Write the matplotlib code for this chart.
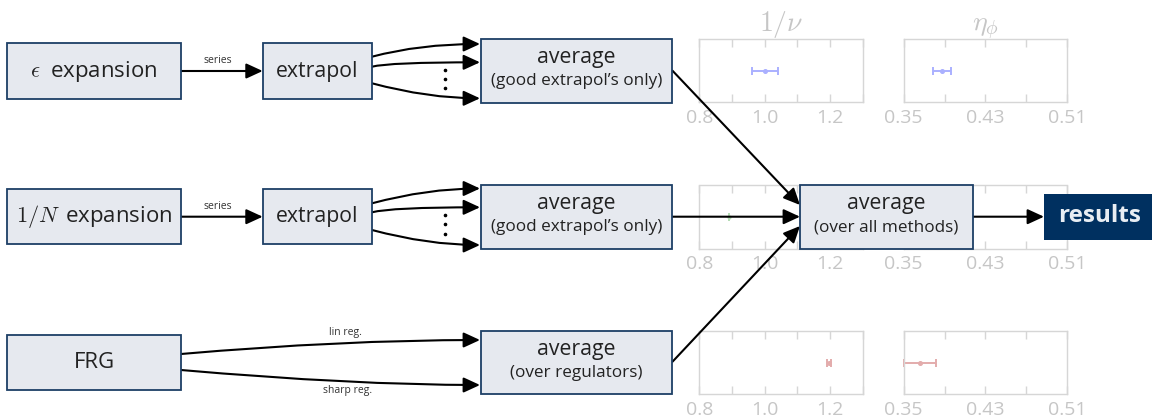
import matplotlib
matplotlib.use('Agg')
import matplotlib.pyplot as plt
from matplotlib.patches import Rectangle, FancyArrowPatch

plt.rcParams['font.family'] = ['Open Sans', 'DejaVu Sans']
plt.rcParams['mathtext.fontset'] = 'cm'

W, H = 1152, 418
fig = plt.figure(figsize=(W / 100, H / 100), dpi=100)

# ---------------- data ----------------
methods = [r'$\epsilon\;$ expansion', r'$1/N\,$ expansion', 'FRG']
nu_inv = [1.002, 0.89, 1.198]
nu_inv_err = [0.040, 0.0, 0.006]
eta_phi = [0.3876, None, 0.3659]
eta_phi_err = [0.0086, None, 0.0157]
row_colors = ['#aab0ff', '#b5dcb5', '#e3acac']
nu_ticks = [0.8, 0.9, 1.0, 1.1, 1.2, 1.3]
nu_ticklabels = ['0.8', '', '1.0', '', '1.2', '']
eta_ticks = [0.35, 0.39, 0.43, 0.47, 0.51]
eta_ticklabels = ['0.35', '', '0.43', '', '0.51']
panel_titles = [r'$1/\nu$', r'$\eta_\phi$']

GRAY = '#d6d6d6'
TGRAY = '#c6c6c6'


def px_axes(x, y, w, h, **kw):
    return fig.add_axes([x / W, 1 - (y + h) / H, w / W, h / H], **kw)


col_x = [699.3, 903.7]
col_w = 163.5
row_y = [39.3, 185.5, 331.0]
row_h = 63.0

for r in range(3):
    for c in range(2):
        ax = px_axes(col_x[c], row_y[r], col_w, row_h)
        if c == 0:
            ticks, labels = nu_ticks, nu_ticklabels
            val, err = nu_inv[r], nu_inv_err[r]
        else:
            ticks, labels = eta_ticks, eta_ticklabels
            val, err = eta_phi[r], eta_phi_err[r]
        ax.set_xlim(ticks[0], ticks[-1])
        ax.set_ylim(-1, 1)
        if val is not None:
            ax.errorbar([val], [0], xerr=[err], fmt='o',
                        ms=2.6 if err > 0 else 2.0,
                        color=row_colors[r], ecolor=row_colors[r],
                        elinewidth=1.4, capsize=3, capthick=1.4, clip_on=False)
        ax.set_xticks(ticks)
        ax.set_xticklabels(labels)
        ax.set_yticks([])
        ax.tick_params(axis='x', direction='in', top=True, length=6,
                       width=1, color=GRAY, labelcolor=TGRAY,
                       labelsize=14, pad=5)
        for s in ax.spines.values():
            s.set_color(GRAY)
            s.set_linewidth(1)
        if r == 0:
            ax.set_title(panel_titles[c], color=TGRAY, fontsize=20, pad=6)

# ---------------- overlay diagram ----------------
ov = fig.add_axes([0, 0, 1, 1], zorder=10)
ov.patch.set_alpha(0)
ov.set_xlim(0, W)
ov.set_ylim(H, 0)
ov.axis('off')

EDGE = '#1d3f66'
FILL = '#e6e9ef'
TXT = '#222222'


def box(x, y, w, h, main, sub=None, fs=15.3):
    ov.add_patch(Rectangle((x, y), w, h, facecolor=FILL, edgecolor=EDGE,
                           lw=1.3, zorder=3))
    cx = x + w / 2
    cy = y + h / 2
    if sub is None:
        ov.text(cx, cy, main, ha='center', va='center', fontsize=fs,
                color=TXT, zorder=4)
    else:
        ov.text(cx, cy - 13, main, ha='center', va='center', fontsize=fs,
                color=TXT, zorder=4)
        ov.text(cx, cy + 10.5, sub, ha='center', va='center', fontsize=12.3,
                color=TXT, zorder=4)


def arrow(p0, p1, cs='arc3,rad=0'):
    a = FancyArrowPatch(p0, p1, connectionstyle=cs,
                        arrowstyle='-|>,head_length=0.5,head_width=0.23',
                        mutation_scale=20, lw=1.5, color='black',
                        shrinkA=0, shrinkB=0, zorder=2)
    ov.add_patch(a)


# left column boxes
src_y = [43.3, 189.0, 335.0]
for r in range(3):
    box(7.3, src_y[r], 173.7, 55.4, methods[r], fs=16)

# extrapol boxes + series arrows
for r in range(2):
    y0 = src_y[r]
    box(262.7, y0, 109.3, 55.4, 'extrapol')
    ym = y0 + 27.7
    arrow((181, ym), (262.7, ym))
    ov.text(218, ym - 5, 'series', ha='center', va='bottom', fontsize=7.5,
            color='#333333')

# fan-out arrows from extrapol
fan = [
    [(372, 56.7, 480, 44.0, 15), (372, 66.7, 480, 62.3, 15), (372, 83.3, 480, 98.3, -15)],
    [(372, 203.3, 480, 188.5, 15), (372, 212.3, 480, 207.3, 15), (372, 230.0, 480, 245.0, -15)],
]
for grp in fan:
    for (x0, y0, x1, y1, ang) in grp:
        arrow((x0, y0), (x1, y1), cs=f'angle3,angleA={ang},angleB=0')

# vertical dots
for ys in ([69.5, 78.5, 88.0], [215.0, 224.0, 233.5]):
    ov.plot([445] * 3, ys, 'o', color='black', ms=1.6, zorder=2)

# FRG arrows
arrow((181, 354), (480, 340), cs='angle3,angleA=5,angleB=0')
arrow((181, 370), (480, 385), cs='angle3,angleA=-5,angleB=0')
ov.text(345, 338, 'lin reg.', ha='center', va='bottom', fontsize=7.5, color='#333333')
ov.text(348, 385.5, 'sharp reg.', ha='center', va='top', fontsize=7.5, color='#333333')

# average boxes
box(481, 39.0, 191.3, 63.7, 'average', '(good extrapol\u2019s only)')
box(481, 185.0, 191.3, 63.7, 'average', '(good extrapol\u2019s only)')
box(481, 330.7, 191.3, 63.7, 'average', '(over regulators)')

# overall box
box(800, 185.0, 173.3, 64.0, 'average', '(over all methods)')

arrow((672.5, 70.7), (800, 205))
arrow((672.5, 216.7), (800, 216.7))
arrow((672.5, 361.7), (800, 226))
arrow((973.3, 216.7), (1044, 216.7))

# results box
ov.add_patch(Rectangle((1044, 194), 112, 46, facecolor='#003060',
                       edgecolor='none', zorder=3, clip_on=False))
ov.text(1099.5, 216.5, 'results', ha='center', va='center', fontsize=17.5,
        fontweight='bold', color='#e8edf3', zorder=4)

fig.savefig('out.png', dpi=100)
